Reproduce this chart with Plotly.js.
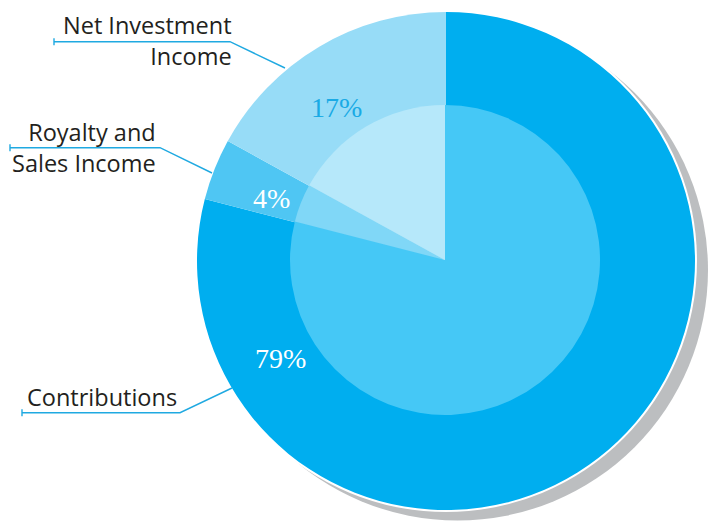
<!DOCTYPE html>
<html>
<head>
<meta charset="utf-8">
<script src="https://cdn.plot.ly/plotly-3.0.1.min.js"></script>
<style>html,body{margin:0;padding:0;background:#fff;}#chart{width:708px;height:521px;}</style>
</head>
<body>
<div id="chart"></div>
<script>
// ---- data ----
const categories = ["Contributions", "Royalty and Sales Income", "Net Investment Income"];
const categoryLabels = ["Contributions", "Royalty and<br>Sales Income", "Net Investment<br>Income"];
const shares = [79, 4, 17];
const outerColors = ["#00aeef", "#4fc6f3", "#97dcf7"];
const innerColors = ["#45c8f6", "#80d7f7", "#b6e8fa"];

// ---- layout helpers ----
const W = 708, H = 521;
const px = x => x / W;
const py = y => 1 - y / H;
const dom = (cx, cy, r) => ({x: [px(cx - r), px(cx + r)], y: [py(cy + r), py(cy - r)]});

const CX = 446, CY = 261;

const base = {type: "pie", sort: false, direction: "clockwise", rotation: 0,
  textinfo: "none", hoverinfo: "skip", showlegend: false, marker: {line: {width: 0}}};

const traces = [
  Object.assign({}, base, {values: [1], labels: ["shadow"], domain: dom(CX + 12, CY + 9, 251),
    marker: {colors: ["#bcbec0"], line: {width: 0}}}),
  Object.assign({}, base, {values: [1], labels: ["edge"], domain: dom(CX, CY, 251),
    marker: {colors: ["#ffffff"], line: {width: 0}}}),
  Object.assign({}, base, {values: shares, labels: categories, domain: dom(CX, CY, 249),
    marker: {colors: outerColors, line: {width: 0}}}),
  Object.assign({}, base, {values: shares, labels: categories, domain: dom(CX - 1, CY - 1, 155),
    marker: {colors: innerColors, line: {width: 0}}})
];

// percent labels
const pctPos = [[280, 358], [271, 199], [336, 107]];
const pctColors = ["#ffffff", "#ffffff", "#1aaae5"];
const annotations = [];
shares.forEach((v, i) => {
  annotations.push({xref: "paper", yref: "paper", x: px(pctPos[i][0]), y: py(pctPos[i][1]),
    xanchor: "center", yanchor: "middle", showarrow: false, text: v + "%",
    font: {family: "Liberation Serif, DejaVu Serif, serif", size: 28, color: pctColors[i]}});
});

// category labels
const labelPos = [[179, 397], [158, 147], [234, 41]];
categoryLabels.forEach((t, i) => {
  annotations.push({xref: "paper", yref: "paper", x: px(labelPos[i][0]), y: py(labelPos[i][1]),
    xanchor: "right", yanchor: "middle", align: "right", showarrow: false, text: t,
    font: {family: "Open Sans, Noto Sans, sans-serif", size: 23.5, color: "#231f20"}});
});

// leader lines
const leaders = [
  [[22, 412.7], [180, 412.7], [232, 388]],
  [[10, 147.7], [160, 147.7], [212, 173]],
  [[54, 41.7], [230, 41.7], [285, 68]]
];
const lineStyle = {color: "#1fa9e1", width: 1.4};
const shapes = [];
leaders.forEach(pts => {
  const d = "M " + pts.map(p => px(p[0]) + "," + py(p[1])).join(" L ");
  shapes.push({type: "path", xref: "paper", yref: "paper", path: d, line: lineStyle});
  shapes.push({type: "line", xref: "paper", yref: "paper",
    x0: px(pts[0][0]), x1: px(pts[0][0]), y0: py(pts[0][1] - 3.5), y1: py(pts[0][1] + 3.5), line: lineStyle});
});

const layout = {width: W, height: H, margin: {l: 0, r: 0, t: 0, b: 0},
  paper_bgcolor: "#ffffff", plot_bgcolor: "#ffffff", showlegend: false,
  annotations: annotations, shapes: shapes};

Plotly.newPlot("chart", traces, layout, {displayModeBar: false, staticPlot: true});
</script>
</body>
</html>
